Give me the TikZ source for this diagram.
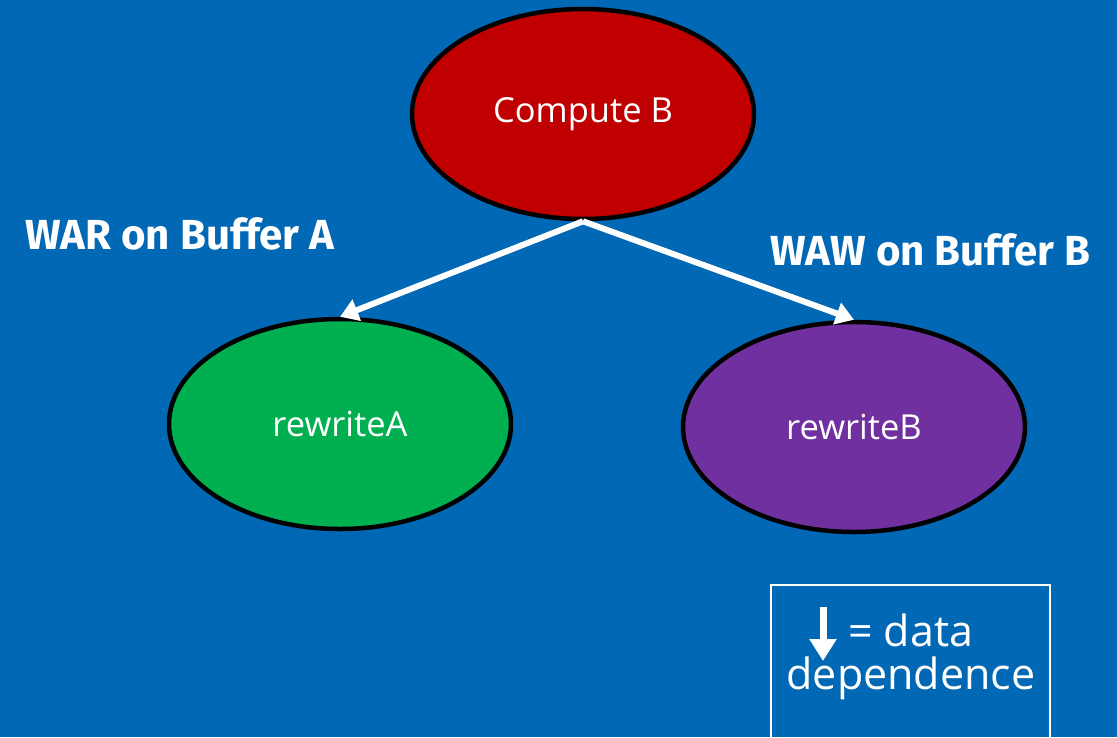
\documentclass[tikz,border=0pt]{standalone}
\usepackage{fontspec}
\setmainfont{Open Sans}
\newfontfamily\labelfont{Fira Sans}
\usetikzlibrary{shapes.geometric,arrows.meta}
\definecolor{slideblue}{RGB}{0,104,181}
\definecolor{taskred}{RGB}{192,0,0}
\definecolor{taskgreen}{RGB}{0,176,80}
\definecolor{taskpurple}{RGB}{112,48,160}
\tikzset{
  task/.style={ellipse, draw=black, line width=4.5pt, minimum width=342pt,
    minimum height=210pt, text=white, font=\fontsize{34.5}{40}\selectfont, inner sep=0pt},
  dep/.style={draw=white, line width=6pt, -{Triangle[length=18pt,width=22pt]}},
  hazard/.style={text=white, font=\labelfont\bfseries\fontsize{42}{48}\selectfont, inner sep=0pt},
  legendtext/.style={text=white, font=\fontsize{43}{50}\selectfont, inner sep=0pt}
}
\begin{document}
\begin{tikzpicture}[x=1pt,y=-1pt]
  \fill[slideblue] (0,0) rectangle (1117,737);
  \useasboundingbox (0,0) rectangle (1117,737);

  % tasks
  \node[task, fill=taskred]    (cb) at (583,114) {Compute B};
  \node[task, fill=taskgreen]  (ra) at (340,424) {rewriteA};
  \node[task, fill=taskpurple] (rb) at (854,427) {rewriteB};

  % dependences
  \draw[dep] (cb.south) -- (ra.north);
  \draw[dep] (cb.south) -- (rb.north);

  % hazard labels
  \node[hazard, anchor=west] (war) at (25,234) {WAR on Buffer A};
  \node[hazard, anchor=west] (waw) at (770,250) {WAW on Buffer B};

  % legend
  \draw[white, line width=2pt] (771,745) -- (771,585) -- (1050,585) -- (1050,745);
  \coordinate (lgtop) at (823,607);
  \coordinate (lgbot) at (823,661);
  \draw[draw=white, line width=7pt, -{Triangle[length=22pt,width=26pt]}] (lgtop) -- (lgbot);
  \node[legendtext, anchor=west] (eq) at (848,630) {= data};
  \node[legendtext] (dd) at (911,678) {dependence};
\end{tikzpicture}
\end{document}
